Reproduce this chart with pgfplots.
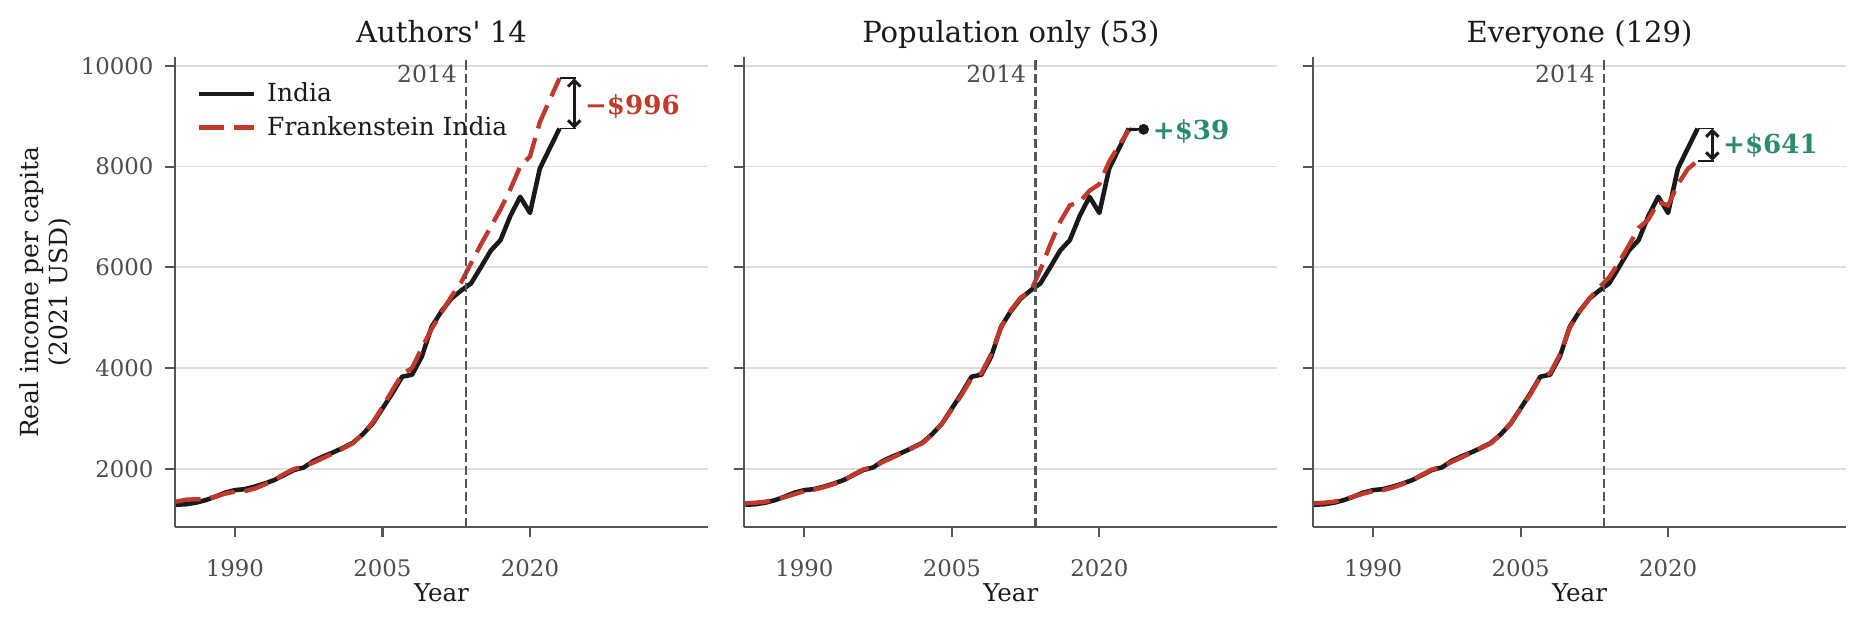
\documentclass[border=0pt]{standalone}
\usepackage{fontspec}
\setmainfont{DejaVu Serif}
\newfontfamily\qfont{DejaVu Serif}
\usepackage{pgfplots}
\usepackage{pgfplotstable}
\pgfplotsset{compat=1.18}
\usetikzlibrary{arrows.meta}

\definecolor{fred}{HTML}{C0392B}
\definecolor{fgreen}{HTML}{2A8C6C}
\definecolor{ink}{HTML}{1A1A1A}
\definecolor{spine}{HTML}{555555}
\definecolor{ticklab}{HTML}{4D4D4D}
\definecolor{gridc}{HTML}{DDDDDD}

\pgfplotstableread{
year india
1984 1290
1985 1300
1986 1330
1987 1380
1988 1450
1989 1530
1990 1580
1991 1600
1992 1650
1993 1710
1994 1780
1995 1880
1996 1980
1997 2030
1998 2160
1999 2250
2000 2330
2001 2420
2002 2520
2003 2690
2004 2900
2005 3200
2006 3500
2007 3830
2008 3870
2009 4230
2010 4820
2011 5130
2012 5380
2013 5540
2014 5680
2015 6000
2016 6330
2017 6540
2018 7020
2019 7400
2020 7080
2021 7960
2022 8360
2023 8754
}\india

\pgfplotstableread{
year a b c
1984 1350 1320 1320
1985 1390 1330 1330
1986 1400 1350 1350
1987 1400 1390 1390
1988 1450 1440 1450
1989 1510 1500 1510
1990 1550 1560 1560
1991 1560 1590 1580
1992 1610 1640 1630
1993 1690 1700 1700
1994 1780 1770 1780
1995 1900 1890 1890
1996 2000 1990 1990
1997 2050 2040 2040
1998 2130 2140 2140
1999 2220 2230 2230
2000 2310 2320 2320
2001 2410 2420 2420
2002 2510 2510 2510
2003 2700 2680 2690
2004 2920 2900 2910
2005 3230 3180 3190
2006 3560 3470 3480
2007 3880 3800 3820
2008 4000 3900 3900
2009 4400 4280 4270
2010 4780 4800 4800
2011 5100 5150 5120
2012 5420 5400 5380
2013 5700 5520 5600
2014 6080 5950 5800
2015 6450 6450 6100
2016 6800 6900 6430
2017 7150 7230 6780
2018 7550 7300 6950
2019 8000 7520 7300
2020 8200 7650 7230
2021 8880 8100 7650
2022 9320 8420 7950
2023 9750 8719 8117
}\frank

\tikzset{
  lab/.style={anchor=west, inner sep=0pt, font=\fontsize{12.6}{14}\selectfont\bfseries},
  yr/.style={anchor=east, inner sep=0pt, font=\fontsize{11.3}{13}\selectfont, text=ticklab},
}

\pgfplotsset{
  panel/.style={
    scale only axis, width=256.8pt, height=226.7pt,
    xmin=1983.9, xmax=2038.1, ymin=843, ymax=10179,
    axis x line*=bottom, axis y line*=left,
    axis line style={spine, line width=1pt},
    xtick={1990,2005,2020}, ytick={2000,4000,6000,8000,10000},
    tick align=outside, major tick length=4.8pt,
    tick style={spine, line width=1pt},
    ymajorgrids, grid style={gridc, line width=0.9pt},
    scaled ticks=false,
    /pgf/number format/1000 sep={},
    /pgf/number format/assume math mode=true,
    ticklabel style={font=\fontsize{11}{13}\selectfont, text=ticklab},
    xticklabel style={anchor=base, yshift=-19pt},
    yticklabel style={anchor=east, xshift=-2pt},
    xlabel={Year},
    xlabel style={font=\fontsize{11.8}{13}\selectfont, text=ink, at={(axis description cs:0.5,0)}, anchor=base, yshift=-35.8pt},
    title style={font=\fontsize{14}{16}\selectfont, text=ink, at={(axis description cs:0.5,1)}, anchor=base, yshift=1pt},
    clip=false,
  },
  india/.style={ink, line width=2.2pt, line join=round},
  frank/.style={fred, line width=2.1pt, dash pattern=on 12pt off 4.8pt},
  vline/.style={spine, line width=1.2pt, dash pattern=on 4.4pt off 1.9pt, forget plot},
  tickl/.style={ink, line width=0.9pt, forget plot},
  dbl/.style={ink, line width=1.4pt, {Straight Barb[length=3pt,width=6pt]}-{Straight Barb[length=3pt,width=6pt]}, forget plot},
}

\begin{document}
\begin{tikzpicture}
\path[use as bounding box] (0,0) rectangle (899.0pt,301.1pt);

% Panel 1
\begin{axis}[panel, at={(84.3pt,47.07pt)}, anchor=south west,
  title={Authors{\qfont '} 14},
  ylabel={Real income per capita\\(2021 USD)},
  ylabel style={font=\fontsize{12}{14}\selectfont, text=ink, align=center, at={(axis description cs:0,0.5)}, anchor=center, xshift=0pt, yshift=62.6pt},
  legend style={draw=none, fill=none, at={(axis description cs:0,1)}, anchor=north west,
    xshift=10.45pt, yshift=-12.4pt, font=\fontsize{12}{14}\selectfont, text=ink,
    inner sep=0pt, row sep=5.6pt, nodes={inner sep=0pt},
    /tikz/every odd column/.append style={column sep=5.3pt}},
  legend cell align=left,
  legend image code/.code={\draw[#1] (0pt,0pt) -- (26.3pt,0pt);},
]
\addplot[india] table[x=year,y=india]{\india};
\addplot[frank] table[x=year,y=a]{\frank};
\legend{India, Frankenstein India}
\addplot[vline] coordinates {(2013.5,843) (2013.5,10179)};
\addplot[tickl] coordinates {(2023,9750) (2024.7,9750)};
\addplot[tickl] coordinates {(2023,8754) (2024.7,8754)};
\addplot[dbl] coordinates {(2024.5,8754) (2024.5,9750)};
\node[yr] at (axis cs:2012.6,9835) {2014};
\node[lab, text=fred] at (axis cs:2025.55,9200) {−\$996};
\end{axis}

% Panel 2
\begin{axis}[panel, at={(358.6pt,47.07pt)}, anchor=south west,
  title={Population only (53)}, yticklabels={}]
\addplot[india] table[x=year,y=india]{\india};
\addplot[frank] table[x=year,y=b]{\frank};
\addplot[vline] coordinates {(2013.5,843) (2013.5,10179)};
\addplot[tickl] coordinates {(2023,8754) (2024.5,8738)};
\addplot[tickl] coordinates {(2023,8719) (2024.5,8738)};
\addplot[only marks, mark=*, mark size=2.4pt, ink, forget plot] coordinates {(2024.5,8738)};
\node[yr] at (axis cs:2012.6,9835) {2014};
\node[lab, text=fgreen] at (axis cs:2025.4,8690) {+\$39};
\end{axis}

% Panel 3
\begin{axis}[panel, at={(632.6pt,47.07pt)}, anchor=south west,
  title={Everyone (129)}, yticklabels={}]
\addplot[india] table[x=year,y=india]{\india};
\addplot[frank] table[x=year,y=c]{\frank};
\addplot[vline] coordinates {(2013.5,843) (2013.5,10179)};
\addplot[tickl] coordinates {(2023,8754) (2024.7,8754)};
\addplot[tickl] coordinates {(2023,8117) (2024.7,8117)};
\addplot[dbl] coordinates {(2024.5,8117) (2024.5,8754)};
\node[yr] at (axis cs:2012.6,9835) {2014};
\node[lab, text=fgreen] at (axis cs:2025.55,8410) {+\$641};
\end{axis}
\end{tikzpicture}
\end{document}
